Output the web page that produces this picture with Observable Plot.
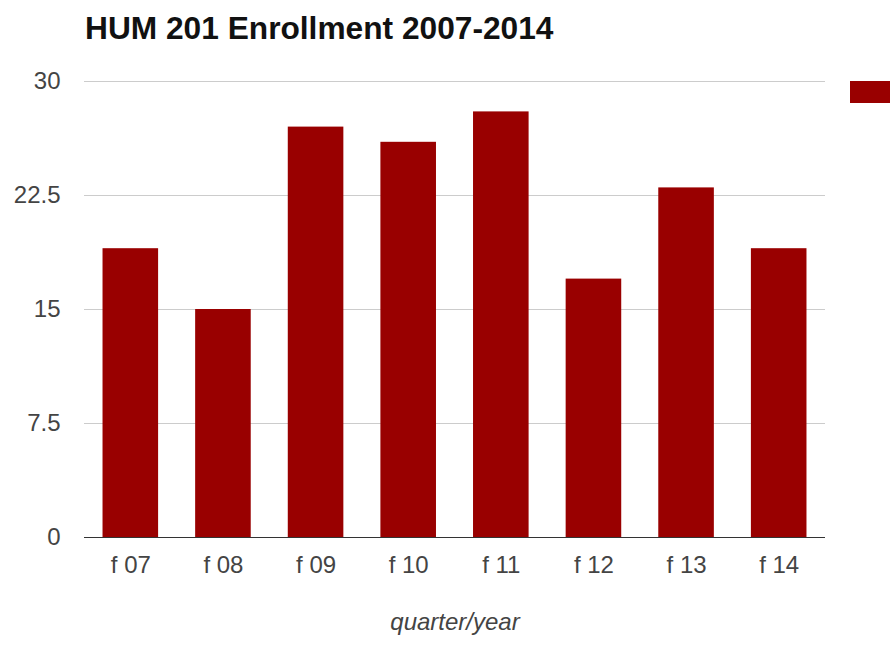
<!DOCTYPE html>
<html>
<head>
<meta charset="utf-8">
<script src="https://cdn.jsdelivr.net/npm/d3@7"></script>
<script src="https://cdn.jsdelivr.net/npm/@observablehq/plot@0.6"></script>
<style>
  body { margin: 0; background: #fff; font-family: "Liberation Sans", Arial, sans-serif; }
  #wrap { position: relative; width: 890px; height: 645px; overflow: hidden; }
  #title { position: absolute; left: 85px; top: 9px; font-size: 31.7px; font-weight: bold; color: #111; line-height: 38px; white-space: nowrap; z-index: 2; }
  #legend { position: absolute; left: 850px; top: 81px; width: 60px; height: 22px; background: #990000; z-index: 2; }
  #chart { position: absolute; left: 0; top: 0; }
</style>
</head>
<body>
<div id="wrap">
  <div id="title">HUM 201 Enrollment 2007-2014</div>
  <div id="legend"></div>
  <div id="chart"></div>
</div>
<script>
const quarters = ["f 07", "f 08", "f 09", "f 10", "f 11", "f 12", "f 13", "f 14"];
const enrollment = [19, 15, 27, 26, 28, 17, 23, 19];
const yTicks = [0, 7.5, 15, 22.5, 30];
const xLabel = "quarter/year";

const data = quarters.map((q, i) => ({quarter: q, value: enrollment[i]}));

const chart = Plot.plot({
  width: 890,
  height: 645,
  marginTop: 81,
  marginBottom: 108,
  marginLeft: 84,
  marginRight: 65,
  style: {
    fontFamily: '"Liberation Sans", Arial, sans-serif',
    fontSize: "24px",
    color: "#444",
    background: "transparent"
  },
  x: {domain: quarters, paddingInner: 0.4, paddingOuter: 0.2, round: false, label: null},
  y: {domain: [0, 30], label: null},
  marks: [
    Plot.gridY(yTicks.filter(d => d > 0), {stroke: "#cccccc", strokeOpacity: 1}),
    Plot.barY(data, {x: "quarter", y: "value", fill: "#990000"}),
    Plot.ruleY([0], {stroke: "#333333", strokeWidth: 1.2}),
    Plot.axisX({tickSize: 0, tickPadding: 18, fill: "#444", fontSize: 24, label: null}),
    Plot.axisY({ticks: yTicks, tickFormat: d => String(d), tickSize: 0, tickPadding: 24, fill: "#444", fontSize: 24, label: null}),
    Plot.text([xLabel], {frameAnchor: "bottom", dy: 92, fontStyle: "italic", fill: "#444", fontSize: 24})
  ]
});
document.getElementById("chart").appendChild(chart);
</script>
</body>
</html>
